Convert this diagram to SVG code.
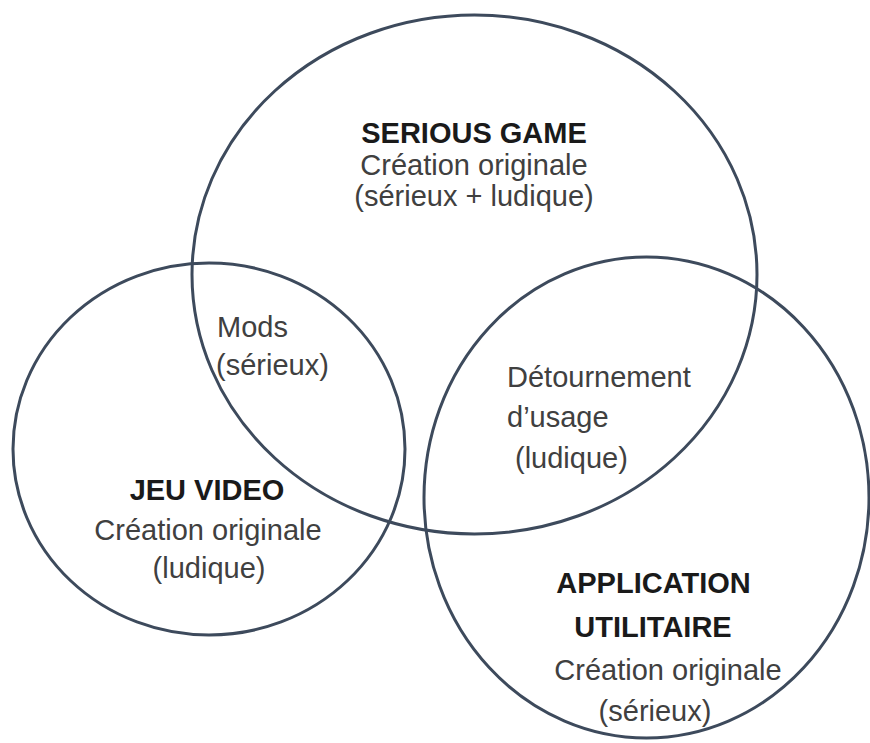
<svg xmlns="http://www.w3.org/2000/svg" width="870" height="743" viewBox="0 0 870 743">
<style>
.c{fill:none;stroke:#3d4a5c;stroke-width:3}
.t{font-family:"Liberation Sans",Arial,sans-serif;font-size:29px;fill:#404040}
.b{font-family:"Liberation Sans",Arial,sans-serif;font-size:29px;font-weight:bold;fill:#1a1a1a}
.m{text-anchor:middle}
</style>
<rect width="870" height="743" fill="#ffffff"/>
<g id="serious-game">
<ellipse class="c" cx="474.5" cy="274.5" rx="282.5" ry="259.5"/>
<text class="b m" x="474" y="143">SERIOUS GAME</text>
<text class="t m" x="474" y="175">Création originale</text>
<text class="t m" x="474" y="206">(sérieux + ludique)</text>
</g>
<g id="jeu-video">
<ellipse class="c" cx="209" cy="449" rx="196" ry="186"/>
<text class="b m" x="207" y="500">JEU VIDEO</text>
<text class="t m" x="208" y="540">Création originale</text>
<text class="t m" x="209" y="578">(ludique)</text>
</g>
<g id="application-utilitaire">
<ellipse class="c" cx="646.5" cy="497.5" rx="222.5" ry="240.5"/>
<text class="b m" x="653.5" y="593">APPLICATION</text>
<text class="b m" x="653" y="637">UTILITAIRE</text>
<text class="t m" x="668" y="680">Création originale</text>
<text class="t m" x="655" y="721">(sérieux)</text>
</g>
<g id="mods">
<text class="t" x="217" y="337">Mods</text>
<text class="t" x="216" y="375">(sérieux)</text>
</g>
<g id="detournement">
<text class="t" x="507" y="387">Détournement</text>
<text class="t" x="507" y="427">d’usage</text>
<text class="t" x="515" y="468">(ludique)</text>
</g>
<g id="connectors"></g>
</svg>
